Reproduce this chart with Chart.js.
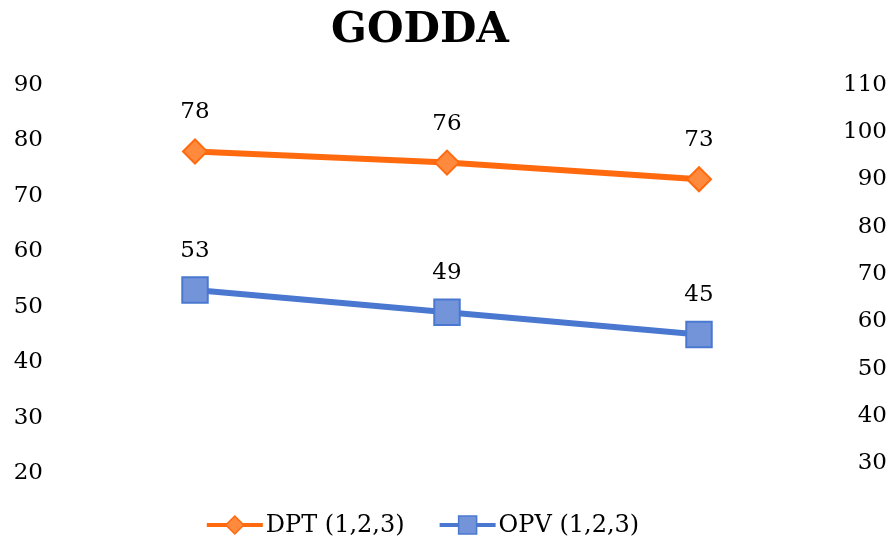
<!DOCTYPE html>
<html>
<head>
<meta charset="utf-8">
<script src="https://cdn.jsdelivr.net/npm/chart.js@4.4.1/dist/chart.umd.min.js"></script>
<style>
  html, body { margin: 0; padding: 0; background: #fff; }
  #wrap { width: 887px; height: 542px; }
</style>
</head>
<body>
<div id="wrap"><canvas id="goddaChart"></canvas></div>
<script>
const rounds = ['1', '2', '3'];
const dptValues = [78, 76, 73];
const opvValues = [53, 49, 45];
const leftTicks = [20, 30, 40, 50, 60, 70, 80, 90];
const rightTicks = [30, 40, 50, 60, 70, 80, 90, 100, 110];

const serif = "'DejaVu Serif', 'Liberation Serif', serif";
const orange = '#ff6a0e';
const orangeFill = '#ff8a3d';
const blue = '#4a78d0';
const blueFill = '#7494da';

// draws a legend symbol: line with the marker in the middle
function drawSymbol(g, x, y, color, fill, shape) {
    g.strokeStyle = color;
    g.lineWidth = 4;
    g.beginPath();
    g.moveTo(x, y);
    g.lineTo(x + 56, y);
    g.stroke();
    g.fillStyle = fill;
    g.lineWidth = 1.5;
    g.beginPath();
    const cx = x + 28;
    if (shape === 'diamond') {
        g.moveTo(cx, y - 9); g.lineTo(cx + 9, y); g.lineTo(cx, y + 9); g.lineTo(cx - 9, y);
    } else {
        g.rect(cx - 9, y - 9, 18, 18);
    }
    g.closePath();
    g.fill();
    g.stroke();
}

// title, legend and the value above each point
const extras = {
    id: 'extras',
    afterDatasetsDraw(chart) {
        const ctx = chart.ctx;
        ctx.save();
        ctx.font = "23px " + serif;
        ctx.fillStyle = '#000';
        ctx.textAlign = 'center';
        ctx.textBaseline = 'middle';
        chart.data.datasets.forEach((ds, i) => {
            const meta = chart.getDatasetMeta(i);
            meta.data.forEach((pt, j) => {
                ctx.fillText(ds.data[j], pt.x, pt.y - 39);
            });
        });

        // title
        ctx.font = "bold 42px " + serif;
        ctx.fillText('GODDA', 420, 31);

        // legend
        ctx.font = "24px " + serif;
        ctx.textAlign = 'left';
        const items = chart.data.datasets.map((ds, i) => ({
            text: ds.label,
            w: 56 + 3 + ctx.measureText(ds.label).width,
            color: ds.borderColor,
            fill: ds.backgroundColor,
            shape: i === 0 ? 'diamond' : 'square'
        }));
        const gap = 35;
        const total = items.reduce((s, it) => s + it.w, 0) + gap * (items.length - 1);
        let x = 423 - total / 2;
        const ly = 525;
        items.forEach(it => {
            drawSymbol(ctx, x, ly, it.color, it.fill, it.shape);
            ctx.fillStyle = '#000';
            ctx.fillText(it.text, x + 59, ly + 1);
            x += it.w + gap;
        });
        ctx.restore();
    }
};

new Chart(document.getElementById('goddaChart'), {
    type: 'line',
    data: {
        labels: rounds,
        datasets: [{
            label: 'DPT (1,2,3)',
            data: dptValues,
            borderColor: orange,
            backgroundColor: orangeFill,
            borderWidth: 6,
            pointStyle: 'rectRot',
            pointRadius: 12,
            pointHoverRadius: 12,
            pointBorderColor: orange,
            pointBorderWidth: 2,
            yAxisID: 'y'
        }, {
            label: 'OPV (1,2,3)',
            data: opvValues,
            borderColor: blue,
            backgroundColor: blueFill,
            borderWidth: 6,
            pointStyle: 'rect',
            pointRadius: 18,
            pointHoverRadius: 18,
            pointBorderColor: blue,
            pointBorderWidth: 2,
            yAxisID: 'y'
        }]
    },
    options: {
        responsive: true,
        maintainAspectRatio: false,
        animation: false,
        layout: { padding: { left: 0, right: 0, top: 85, bottom: 69 } },
        plugins: {
            title: { display: false },
            legend: { display: false },
            tooltip: { enabled: false }
        },
        scales: {
            x: {
                display: false,
                offset: true
            },
            y: {
                position: 'left',
                min: 20,
                max: 90,
                grid: { display: false, drawTicks: false },
                border: { display: false },
                afterBuildTicks(scale) { scale.ticks = leftTicks.map(v => ({ value: v })); },
                afterFit(scale) { scale.width = 69; },
                ticks: { color: '#000', font: { family: serif, size: 23 }, padding: 26 }
            },
            y2: {
                position: 'right',
                display: true,
                min: 27.9,
                max: 110,
                grid: { display: false, drawTicks: false },
                border: { display: false },
                afterBuildTicks(scale) { scale.ticks = rightTicks.map(v => ({ value: v })); },
                afterFit(scale) { scale.width = 62; },
                ticks: { color: '#000', font: { family: serif, size: 23 }, padding: 16, crossAlign: 'far' }
            }
        }
    },
    plugins: [extras]
});
</script>
</body>
</html>
